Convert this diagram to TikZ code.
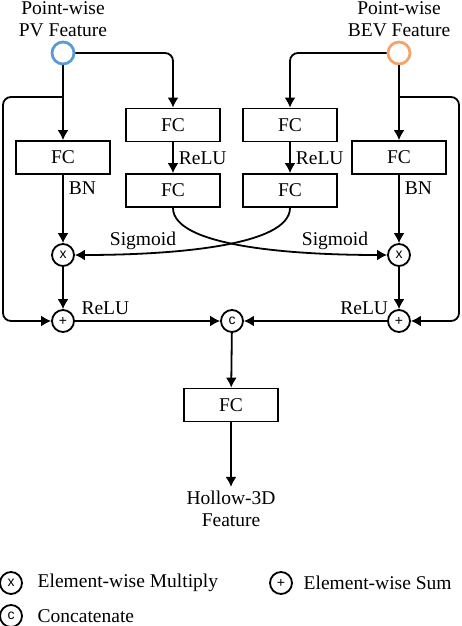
\documentclass[tikz,border=0pt]{standalone}
\usepackage{fontspec}
\setmainfont{Liberation Serif}
\setsansfont{Liberation Sans}
\usepackage{xcolor}
\usetikzlibrary{arrows.meta}
\definecolor{pvblue}{HTML}{5B9BD5}
\definecolor{bevorange}{HTML}{F4A46A}

\begin{document}
\begin{tikzpicture}[x=1pt, y=1pt, line width=1.8pt,
  every node/.style={font=\fontsize{19.5}{22}\selectfont},
  fcbox/.style={draw, minimum width=94, minimum height=33, inner sep=0pt},
  featin/.style={circle, draw=#1, line width=2.8pt, fill=white, minimum size=22, inner sep=0pt},
  op/.style={circle, draw, minimum size=22, inner sep=0pt, font=\sffamily\fontsize{14}{14}\selectfont},
  arr/.style={-{Latex[length=10pt,width=11pt]}},
  lab/.style={inner sep=5pt}]
\useasboundingbox (0,0) rectangle (462,-626);

% Input features
\node[featin=pvblue] (pv) at (63,-53) {};
\node[featin=bevorange] (bev) at (399,-53) {};
\node[align=center] (pvlab) at (63,-19) {Point-wise\\PV Feature};
\node[align=center] (bevlab) at (399,-19) {Point-wise\\BEV Feature};

% FC layers
\node[fcbox] (fcpv) at (63,-157.5) {FC};
\node[fcbox] (fcpva) at (173,-125) {FC};
\node[fcbox] (fcpvb) at (173,-190.5) {FC};
\node[fcbox] (fcbeva) at (290,-125) {FC};
\node[fcbox] (fcbevb) at (290,-190.5) {FC};
\node[fcbox] (fcbev) at (399,-157.5) {FC};

% Operators
\node[op] (mulpv) at (63,-255) {x};
\node[op] (mulbev) at (399,-255) {x};
\node[op] (sumpv) at (63,-321) {+};
\node[op] (sumbev) at (399,-321) {+};
\node[op] (cat) at (232,-321) {c};

% Output
\node[fcbox] (fcout) at (231,-405) {FC};
\node[align=center] (outlab) at (231,-509) {Hollow-3D\\Feature};

% Residual branches
\coordinate (brpv) at (63,-97);
\coordinate (looppv) at (3,-97);
\coordinate (brbev) at (399,-97);
\coordinate (loopbev) at (459,-97);

% PV side
\draw[arr] (pv) -- (fcpv);
\draw[arr, rounded corners=8] (pv.east) -| (fcpva.north);
\draw[arr, rounded corners=8] (brpv) -- (looppv) |- (sumpv.west);
\draw[arr] (fcpv) -- node[lab, right, pos=0.2] (bnpv) {BN} (mulpv);
\draw[arr] (fcpva) -- node[lab, right] (relupva) {ReLU} (fcpvb);

% BEV side
\draw[arr] (bev) -- (fcbev);
\draw[arr, rounded corners=8] (bev.west) -| (fcbeva.north);
\draw[arr, rounded corners=8] (brbev) -- (loopbev) |- (sumbev.east);
\draw[arr] (fcbev) -- node[lab, right, pos=0.2] (bnbev) {BN} (mulbev);
\draw[arr] (fcbeva) -- node[lab, right] (relubeva) {ReLU} (fcbevb);

% Cross attention
\draw[arr] (fcpvb.south) .. controls +(0,-38) and +(-98,0) .. (mulbev.west);
\draw[arr] (fcbevb.south) .. controls +(0,-38) and +(98,0) .. (mulpv.east);
\node (sigpv) at (143,-241) {Sigmoid};
\node (sigbev) at (335,-241) {Sigmoid};

% Fusion
\draw[arr] (mulpv) -- (sumpv);
\draw[arr] (mulbev) -- (sumbev);
\draw[arr] (sumpv) -- node[lab, above, pos=0.21] (relusumpv) {ReLU} (cat);
\draw[arr] (sumbev) -- node[lab, above, pos=0.16] (relusumbev) {ReLU} (cat);
\draw[arr] (cat) -- (fcout);
\draw[arr] (fcout) -- (outlab);

% Legend
\node[op] (legmul) at (11,-583) {x};
\node[anchor=west] (legmultxt) at (33.5,-583) {Element-wise Multiply};
\node[op] (legsum) at (281,-583) {+};
\node[anchor=west] (legsumtxt) at (299.5,-583) {Element-wise Sum};
\node[op] (legcat) at (11,-616) {c};
\node[anchor=west] (legcattxt) at (33.5,-616) {Concatenate};

\end{tikzpicture}
\end{document}
